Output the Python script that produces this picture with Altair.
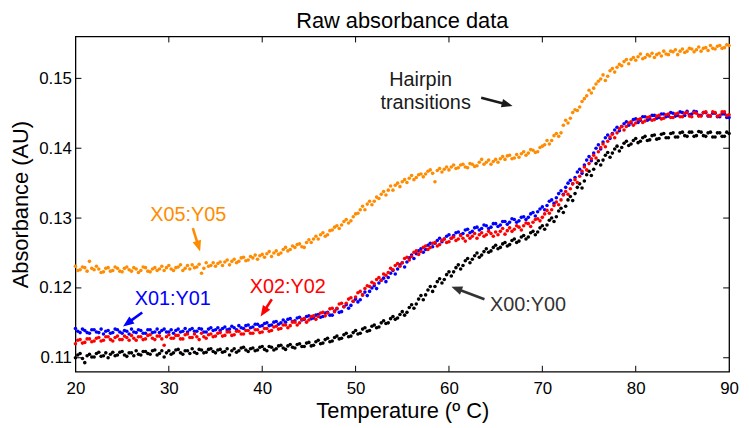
import math
import altair as alt
import pandas as pd

# ---------------- data ----------------
chart_title = "Raw absorbance data"
x_title = "Temperature (º C)"
y_title = "Absorbance (AU)"

# readings every 0.25 ºC from 20 to 90
temperature = [20 + 0.25 * i for i in range(281)]

x05_y05 = [
    0.1231, 0.1225, 0.1226, 0.1230, 0.1229, 0.1224, 0.1238, 0.1228, 0.1226, 0.1231, 0.1227, 0.1222, 0.1223, 0.1228, 0.1229, 0.1224, 0.1225, 0.1230, 0.1228, 0.1224,
    0.1223, 0.1228, 0.1230, 0.1226, 0.1224, 0.1229, 0.1227, 0.1222, 0.1225, 0.1230, 0.1229, 0.1224, 0.1223, 0.1227, 0.1229, 0.1225, 0.1227, 0.1231, 0.1225, 0.1229,
    0.1232, 0.1227, 0.1225, 0.1229, 0.1230, 0.1233, 0.1225, 0.1228, 0.1232, 0.1227, 0.1233, 0.1229, 0.1230, 0.1234, 0.1221, 0.1228, 0.1236, 0.1231, 0.1232, 0.1236,
    0.1231, 0.1235, 0.1237, 0.1232, 0.1237, 0.1240, 0.1233, 0.1238, 0.1241, 0.1236, 0.1238, 0.1243, 0.1244, 0.1239, 0.1240, 0.1245, 0.1243, 0.1247, 0.1241, 0.1246,
    0.1248, 0.1244, 0.1249, 0.1252, 0.1245, 0.1250, 0.1253, 0.1248, 0.1250, 0.1255, 0.1258, 0.1253, 0.1255, 0.1260, 0.1258, 0.1262, 0.1263, 0.1259, 0.1258, 0.1265,
    0.1269, 0.1265, 0.1270, 0.1274, 0.1270, 0.1276, 0.1279, 0.1274, 0.1276, 0.1282, 0.1283, 0.1287, 0.1289, 0.1285, 0.1290, 0.1295, 0.1298, 0.1293, 0.1296, 0.1302,
    0.1306, 0.1307, 0.1312, 0.1317, 0.1312, 0.1320, 0.1324, 0.1319, 0.1324, 0.1330, 0.1328, 0.1334, 0.1338, 0.1333, 0.1340, 0.1346, 0.1340, 0.1347, 0.1350, 0.1345,
    0.1352, 0.1355, 0.1351, 0.1357, 0.1361, 0.1355, 0.1358, 0.1362, 0.1363, 0.1359, 0.1363, 0.1367, 0.1369, 0.1364, 0.1352, 0.1368, 0.1371, 0.1366, 0.1370, 0.1373,
    0.1369, 0.1373, 0.1376, 0.1371, 0.1372, 0.1376, 0.1377, 0.1373, 0.1372, 0.1378, 0.1377, 0.1374, 0.1375, 0.1380, 0.1384, 0.1377, 0.1380, 0.1383, 0.1377, 0.1381,
    0.1384, 0.1380, 0.1385, 0.1388, 0.1384, 0.1389, 0.1390, 0.1385, 0.1386, 0.1391, 0.1387, 0.1392, 0.1395, 0.1390, 0.1393, 0.1398, 0.1397, 0.1394, 0.1395, 0.1401,
    0.1403, 0.1405, 0.1411, 0.1406, 0.1411, 0.1418, 0.1421, 0.1417, 0.1422, 0.1433, 0.1440, 0.1436, 0.1443, 0.1451, 0.1455, 0.1454, 0.1459, 0.1467, 0.1471, 0.1475,
    0.1483, 0.1479, 0.1486, 0.1492, 0.1496, 0.1499, 0.1505, 0.1497, 0.1503, 0.1511, 0.1514, 0.1509, 0.1516, 0.1520, 0.1518, 0.1524, 0.1527, 0.1521, 0.1527, 0.1530,
    0.1526, 0.1531, 0.1535, 0.1528, 0.1530, 0.1534, 0.1532, 0.1536, 0.1530, 0.1534, 0.1536, 0.1532, 0.1539, 0.1535, 0.1534, 0.1539, 0.1538, 0.1541, 0.1534, 0.1539,
    0.1542, 0.1537, 0.1539, 0.1543, 0.1542, 0.1538, 0.1541, 0.1545, 0.1539, 0.1543, 0.1544, 0.1540, 0.1547, 0.1543, 0.1542, 0.1546, 0.1547, 0.1543, 0.1544, 0.1548,
    0.1547,
]

x00_y00 = [
    0.1100, 0.1104, 0.1106, 0.1099, 0.1093, 0.1103, 0.1105, 0.1101, 0.1101, 0.1106, 0.1108, 0.1102, 0.1103, 0.1107, 0.1100, 0.1105, 0.1108, 0.1103, 0.1104, 0.1108,
    0.1109, 0.1104, 0.1102, 0.1107, 0.1107, 0.1103, 0.1110, 0.1105, 0.1104, 0.1109, 0.1109, 0.1106, 0.1105, 0.1110, 0.1111, 0.1104, 0.1106, 0.1110, 0.1101, 0.1107,
    0.1110, 0.1105, 0.1107, 0.1111, 0.1112, 0.1107, 0.1105, 0.1110, 0.1110, 0.1106, 0.1113, 0.1108, 0.1106, 0.1112, 0.1111, 0.1107, 0.1108, 0.1112, 0.1113, 0.1109,
    0.1107, 0.1111, 0.1112, 0.1108, 0.1109, 0.1113, 0.1104, 0.1110, 0.1113, 0.1108, 0.1110, 0.1114, 0.1115, 0.1111, 0.1109, 0.1113, 0.1114, 0.1110, 0.1111, 0.1115,
    0.1116, 0.1112, 0.1110, 0.1116, 0.1115, 0.1111, 0.1113, 0.1117, 0.1118, 0.1114, 0.1112, 0.1117, 0.1119, 0.1115, 0.1114, 0.1119, 0.1120, 0.1116, 0.1116, 0.1121,
    0.1122, 0.1117, 0.1118, 0.1123, 0.1125, 0.1120, 0.1121, 0.1126, 0.1128, 0.1123, 0.1124, 0.1129, 0.1131, 0.1127, 0.1128, 0.1133, 0.1135, 0.1130, 0.1131, 0.1136,
    0.1139, 0.1134, 0.1135, 0.1141, 0.1143, 0.1138, 0.1139, 0.1145, 0.1147, 0.1143, 0.1144, 0.1150, 0.1153, 0.1149, 0.1150, 0.1156, 0.1159, 0.1155, 0.1157, 0.1162,
    0.1166, 0.1161, 0.1165, 0.1172, 0.1176, 0.1171, 0.1177, 0.1184, 0.1189, 0.1183, 0.1190, 0.1197, 0.1202, 0.1195, 0.1202, 0.1209, 0.1213, 0.1207, 0.1212, 0.1219,
    0.1223, 0.1217, 0.1223, 0.1229, 0.1233, 0.1227, 0.1232, 0.1239, 0.1242, 0.1236, 0.1241, 0.1246, 0.1250, 0.1244, 0.1247, 0.1252, 0.1256, 0.1251, 0.1253, 0.1258,
    0.1261, 0.1256, 0.1258, 0.1263, 0.1265, 0.1260, 0.1262, 0.1268, 0.1270, 0.1265, 0.1267, 0.1273, 0.1275, 0.1270, 0.1273, 0.1279, 0.1281, 0.1276, 0.1280, 0.1286,
    0.1289, 0.1284, 0.1290, 0.1297, 0.1300, 0.1295, 0.1302, 0.1310, 0.1314, 0.1308, 0.1317, 0.1326, 0.1331, 0.1325, 0.1335, 0.1344, 0.1349, 0.1343, 0.1353, 0.1362,
    0.1367, 0.1361, 0.1370, 0.1378, 0.1382, 0.1376, 0.1383, 0.1390, 0.1394, 0.1387, 0.1393, 0.1399, 0.1403, 0.1396, 0.1401, 0.1407, 0.1410, 0.1404, 0.1406, 0.1411,
    0.1414, 0.1408, 0.1410, 0.1415, 0.1417, 0.1411, 0.1412, 0.1418, 0.1419, 0.1413, 0.1414, 0.1420, 0.1421, 0.1415, 0.1415, 0.1421, 0.1422, 0.1416, 0.1416, 0.1422,
    0.1423, 0.1418, 0.1417, 0.1423, 0.1423, 0.1417, 0.1418, 0.1424, 0.1423, 0.1418, 0.1417, 0.1422, 0.1423, 0.1416, 0.1416, 0.1422, 0.1422, 0.1417, 0.1417, 0.1423,
    0.1421,
]

x01_y01 = [
    0.1142, 0.1138, 0.1136, 0.1141, 0.1139, 0.1136, 0.1135, 0.1140, 0.1140, 0.1137, 0.1136, 0.1141, 0.1134, 0.1138, 0.1139, 0.1135, 0.1136, 0.1141, 0.1140, 0.1137,
    0.1135, 0.1139, 0.1138, 0.1134, 0.1141, 0.1137, 0.1136, 0.1140, 0.1139, 0.1135, 0.1135, 0.1140, 0.1140, 0.1136, 0.1137, 0.1141, 0.1136, 0.1139, 0.1141, 0.1137,
    0.1137, 0.1140, 0.1135, 0.1139, 0.1141, 0.1137, 0.1138, 0.1142, 0.1137, 0.1140, 0.1142, 0.1138, 0.1138, 0.1142, 0.1141, 0.1137, 0.1137, 0.1141, 0.1143, 0.1139,
    0.1140, 0.1143, 0.1139, 0.1142, 0.1144, 0.1140, 0.1141, 0.1145, 0.1143, 0.1140, 0.1146, 0.1143, 0.1142, 0.1146, 0.1147, 0.1143, 0.1144, 0.1148, 0.1148, 0.1145,
    0.1146, 0.1149, 0.1150, 0.1146, 0.1147, 0.1151, 0.1152, 0.1148, 0.1150, 0.1154, 0.1151, 0.1155, 0.1156, 0.1152, 0.1153, 0.1157, 0.1158, 0.1154, 0.1155, 0.1159,
    0.1160, 0.1156, 0.1157, 0.1161, 0.1162, 0.1158, 0.1159, 0.1164, 0.1165, 0.1161, 0.1161, 0.1167, 0.1170, 0.1165, 0.1166, 0.1173, 0.1176, 0.1171, 0.1175, 0.1181,
    0.1184, 0.1180, 0.1183, 0.1190, 0.1194, 0.1189, 0.1195, 0.1200, 0.1203, 0.1199, 0.1207, 0.1211, 0.1214, 0.1209, 0.1215, 0.1221, 0.1225, 0.1220, 0.1227, 0.1233,
    0.1236, 0.1230, 0.1237, 0.1243, 0.1247, 0.1242, 0.1249, 0.1253, 0.1256, 0.1251, 0.1255, 0.1261, 0.1264, 0.1259, 0.1264, 0.1268, 0.1271, 0.1266, 0.1270, 0.1274,
    0.1276, 0.1271, 0.1275, 0.1279, 0.1280, 0.1276, 0.1278, 0.1283, 0.1284, 0.1279, 0.1281, 0.1286, 0.1287, 0.1283, 0.1285, 0.1290, 0.1289, 0.1285, 0.1287, 0.1292,
    0.1292, 0.1288, 0.1290, 0.1295, 0.1295, 0.1291, 0.1294, 0.1299, 0.1298, 0.1294, 0.1296, 0.1301, 0.1302, 0.1298, 0.1301, 0.1306, 0.1308, 0.1303, 0.1309, 0.1313,
    0.1316, 0.1312, 0.1318, 0.1324, 0.1326, 0.1321, 0.1329, 0.1335, 0.1339, 0.1334, 0.1344, 0.1350, 0.1354, 0.1349, 0.1358, 0.1366, 0.1370, 0.1364, 0.1376, 0.1383,
    0.1388, 0.1382, 0.1393, 0.1400, 0.1405, 0.1399, 0.1409, 0.1415, 0.1419, 0.1414, 0.1421, 0.1426, 0.1430, 0.1425, 0.1431, 0.1435, 0.1438, 0.1433, 0.1436, 0.1441,
    0.1442, 0.1437, 0.1440, 0.1445, 0.1445, 0.1440, 0.1442, 0.1447, 0.1447, 0.1443, 0.1444, 0.1449, 0.1449, 0.1445, 0.1446, 0.1451, 0.1450, 0.1446, 0.1447, 0.1452,
    0.1451, 0.1447, 0.1453, 0.1448, 0.1449, 0.1453, 0.1452, 0.1447, 0.1447, 0.1451, 0.1451, 0.1446, 0.1446, 0.1450, 0.1450, 0.1445, 0.1445, 0.1449, 0.1449, 0.1444,
    0.1444,
]

x02_y02 = [
    0.1120, 0.1125, 0.1126, 0.1121, 0.1122, 0.1127, 0.1127, 0.1123, 0.1124, 0.1128, 0.1129, 0.1124, 0.1125, 0.1130, 0.1130, 0.1126, 0.1124, 0.1129, 0.1131, 0.1126,
    0.1126, 0.1131, 0.1129, 0.1125, 0.1132, 0.1128, 0.1125, 0.1130, 0.1130, 0.1126, 0.1127, 0.1132, 0.1133, 0.1128, 0.1126, 0.1131, 0.1131, 0.1127, 0.1118, 0.1130,
    0.1133, 0.1128, 0.1128, 0.1132, 0.1132, 0.1127, 0.1127, 0.1133, 0.1134, 0.1129, 0.1129, 0.1134, 0.1130, 0.1126, 0.1135, 0.1130, 0.1128, 0.1133, 0.1134, 0.1130,
    0.1131, 0.1135, 0.1136, 0.1131, 0.1132, 0.1137, 0.1137, 0.1132, 0.1133, 0.1138, 0.1138, 0.1134, 0.1134, 0.1139, 0.1139, 0.1135, 0.1135, 0.1140, 0.1140, 0.1136,
    0.1137, 0.1142, 0.1142, 0.1138, 0.1139, 0.1144, 0.1145, 0.1141, 0.1142, 0.1147, 0.1147, 0.1143, 0.1146, 0.1151, 0.1151, 0.1147, 0.1150, 0.1155, 0.1156, 0.1151,
    0.1154, 0.1159, 0.1160, 0.1155, 0.1159, 0.1164, 0.1165, 0.1160, 0.1164, 0.1170, 0.1171, 0.1166, 0.1171, 0.1177, 0.1178, 0.1173, 0.1178, 0.1184, 0.1186, 0.1181,
    0.1187, 0.1193, 0.1195, 0.1190, 0.1199, 0.1203, 0.1202, 0.1208, 0.1206, 0.1212, 0.1215, 0.1211, 0.1220, 0.1218, 0.1222, 0.1228, 0.1226, 0.1232, 0.1235, 0.1231,
    0.1236, 0.1242, 0.1244, 0.1240, 0.1245, 0.1251, 0.1253, 0.1248, 0.1252, 0.1258, 0.1260, 0.1255, 0.1258, 0.1264, 0.1265, 0.1260, 0.1262, 0.1268, 0.1270, 0.1265,
    0.1266, 0.1271, 0.1273, 0.1268, 0.1270, 0.1275, 0.1271, 0.1267, 0.1275, 0.1271, 0.1274, 0.1278, 0.1271, 0.1276, 0.1279, 0.1274, 0.1276, 0.1281, 0.1278, 0.1274,
    0.1280, 0.1276, 0.1281, 0.1285, 0.1277, 0.1282, 0.1286, 0.1281, 0.1284, 0.1289, 0.1287, 0.1283, 0.1289, 0.1293, 0.1292, 0.1288, 0.1294, 0.1298, 0.1299, 0.1296,
    0.1301, 0.1306, 0.1311, 0.1307, 0.1312, 0.1318, 0.1323, 0.1319, 0.1326, 0.1333, 0.1338, 0.1334, 0.1342, 0.1349, 0.1355, 0.1351, 0.1360, 0.1367, 0.1373, 0.1369,
    0.1378, 0.1385, 0.1390, 0.1386, 0.1395, 0.1401, 0.1406, 0.1402, 0.1410, 0.1416, 0.1420, 0.1415, 0.1422, 0.1428, 0.1431, 0.1426, 0.1431, 0.1436, 0.1438, 0.1433,
    0.1436, 0.1441, 0.1442, 0.1437, 0.1439, 0.1444, 0.1445, 0.1440, 0.1441, 0.1446, 0.1447, 0.1442, 0.1443, 0.1448, 0.1449, 0.1444, 0.1444, 0.1449, 0.1450, 0.1445,
    0.1445, 0.1450, 0.1451, 0.1446, 0.1445, 0.1451, 0.1450, 0.1446, 0.1446, 0.1451, 0.1452, 0.1447, 0.1446, 0.1452, 0.1451, 0.1446, 0.1447, 0.1452, 0.1452, 0.1447,
    0.1448,
]

series_names = ["X05:Y05", "X00:Y00", "X01:Y01", "X02:Y02"]
series_colors = ["#FF8C00", "#000000", "#0000FF", "#FF0000"]
series_values = [x05_y05, x00_y00, x01_y01, x02_y02]

x_ticks = [20, 30, 40, 50, 60, 70, 80, 90]
y_ticks = [0.11, 0.12, 0.13, 0.14, 0.15]

# annotation texts (data coordinates)
note_text = ["Hairpin", "transitions", "X05:Y05", "X01:Y01", "X02:Y02", "X00:Y00"]
note_x = [56.97, 57.50, 32.08, 30.43, 42.73, 68.47]
note_y = [0.14975, 0.14641, 0.13044, 0.11837, 0.12014, 0.11754]
note_color = ["#1a1a1a", "#1a1a1a", "#FF8C00", "#0000FF", "#FF0000", "#333333"]

# arrows: start -> tip (data coordinates)
arrow_x = [63.45, 32.57, 27.15, 41.03, 63.80]
arrow_y = [0.14724, 0.12855, 0.11648, 0.11837, 0.11837]
arrow_x2 = [66.81, 33.35, 25.10, 39.83, 60.26]
arrow_y2 = [0.14606, 0.12523, 0.11449, 0.11591, 0.12017]
arrow_color = ["#1a1a1a", "#FF8C00", "#0000FF", "#FF0000", "#333333"]

# ---------------- layout ----------------
W, H = 659, 338
XMIN, XMAX = 20, 90
YMIN, YMAX = 0.108, 0.156
FONT = "Liberation Sans"

rows = []
for name, vals in zip(series_names, series_values):
    for t, a in zip(temperature, vals):
        rows.append({"series": name, "T": t, "A": a})
df = pd.DataFrame(rows)

xs = alt.Scale(domain=[XMIN, XMAX], nice=False, zero=False)
ys = alt.Scale(domain=[YMIN, YMAX], nice=False, zero=False)
x_axis = alt.Axis(values=x_ticks, title=x_title, labelFlush=False, labelBaseline="alphabetic",
                  labelPadding=22, titleY=46, titleBaseline="alphabetic")
y_axis = alt.Axis(values=y_ticks, format=".2f", title=y_title, labelFlush=False,
                  labelPadding=4, titleX=-48, titleAngle=270, titleBaseline="alphabetic")


def X(field="T"):
    return alt.X(f"{field}:Q", scale=xs, axis=x_axis)


def Y(field="A"):
    return alt.Y(f"{field}:Q", scale=ys, axis=y_axis)


points = alt.Chart(df).mark_circle(size=13, opacity=1).encode(
    x=X(), y=Y(),
    color=alt.Color("series:N", scale=alt.Scale(domain=series_names, range=series_colors),
                    legend=None),
)

TL = 6
tx_df = pd.DataFrame({"T": x_ticks[1:-1]})
ty_df = pd.DataFrame({"A": y_ticks})
tick_bottom = alt.Chart(tx_df).mark_rule(color="black", strokeWidth=1).encode(
    x=X(), y=alt.value(H), y2=alt.value(H - TL))
tick_top = alt.Chart(tx_df).mark_rule(color="black", strokeWidth=1).encode(
    x=X(), y=alt.value(0), y2=alt.value(TL))
tick_left = alt.Chart(ty_df).mark_rule(color="black", strokeWidth=1).encode(
    y=Y(), x=alt.value(0), x2=alt.value(TL))
tick_right = alt.Chart(ty_df).mark_rule(color="black", strokeWidth=1).encode(
    y=Y(), x=alt.value(W), x2=alt.value(W - TL))

notes_df = pd.DataFrame({"label": note_text, "T": note_x, "A": note_y, "c": note_color})
notes = alt.Chart(notes_df).mark_text(font=FONT, fontSize=20, align="center",
                                      baseline="middle").encode(
    x=X(), y=Y(),
    text="label:N",
    fill=alt.Fill("c:N", scale=None),
)

title_df = pd.DataFrame({"label": [chart_title]})
title_mark = alt.Chart(title_df).mark_text(
    font=FONT, fontSize=22, align="center", baseline="alphabetic", color="black"
).encode(x=alt.value(W / 2), y=alt.value(-9), text="label:N")

# arrow geometry (shaft shortened, head rotated to direction)
HEAD = 11.0  # arrowhead length in px
sx = W / (XMAX - XMIN)
sy = H / (YMAX - YMIN)
shaft_rows, head_rows = [], []
for x1, y1, x2, y2, c in zip(arrow_x, arrow_y, arrow_x2, arrow_y2, arrow_color):
    sdx = (x2 - x1) * sx
    sdy = -(y2 - y1) * sy
    L = math.hypot(sdx, sdy)
    ux, uy = sdx / L, sdy / L
    ang = math.degrees(math.atan2(sdx, -sdy)) % 360
    back = HEAD * 0.7
    shaft_rows.append({"T": x1, "A": y1, "T2": x2 - ux * back / sx, "A2": y2 + uy * back / sy, "c": c})
    half = HEAD / 2
    head_rows.append({"T": x2 - ux * half / sx, "A": y2 + uy * half / sy, "ang": ang, "c": c})

shafts = alt.Chart(pd.DataFrame(shaft_rows)).mark_rule(strokeWidth=2.6, strokeCap="butt").encode(
    x=X(), y=Y(), x2="T2:Q", y2="A2:Q",
    stroke=alt.Stroke("c:N", scale=None),
)
heads = alt.Chart(pd.DataFrame(head_rows)).mark_point(
    shape="M0,-1L0.8,1L-0.8,1Z", filled=True, size=HEAD * HEAD, opacity=1, strokeWidth=0
).encode(
    x=X(), y=Y(),
    angle=alt.Angle("ang:Q", scale=None),
    fill=alt.Fill("c:N", scale=None),
)

chart = alt.layer(
    points, tick_bottom, tick_top, tick_left, tick_right, notes, shafts, heads, title_mark
).properties(
    width=W, height=H,
    autosize=alt.AutoSizeParams(type="none"),
    padding={"left": 68, "top": 27, "right": 12, "bottom": 52},
).configure_view(
    stroke="black", strokeWidth=1.3
).configure_axis(
    domain=False, ticks=False, tickSize=0, grid=False,
    labelFont=FONT, labelFontSize=17, labelColor="black",
    titleFont=FONT, titleFontSize=22, titleFontWeight="normal", titleColor="black",
)

chart.save("out.html", embed_options={"renderer": "svg", "actions": False})
